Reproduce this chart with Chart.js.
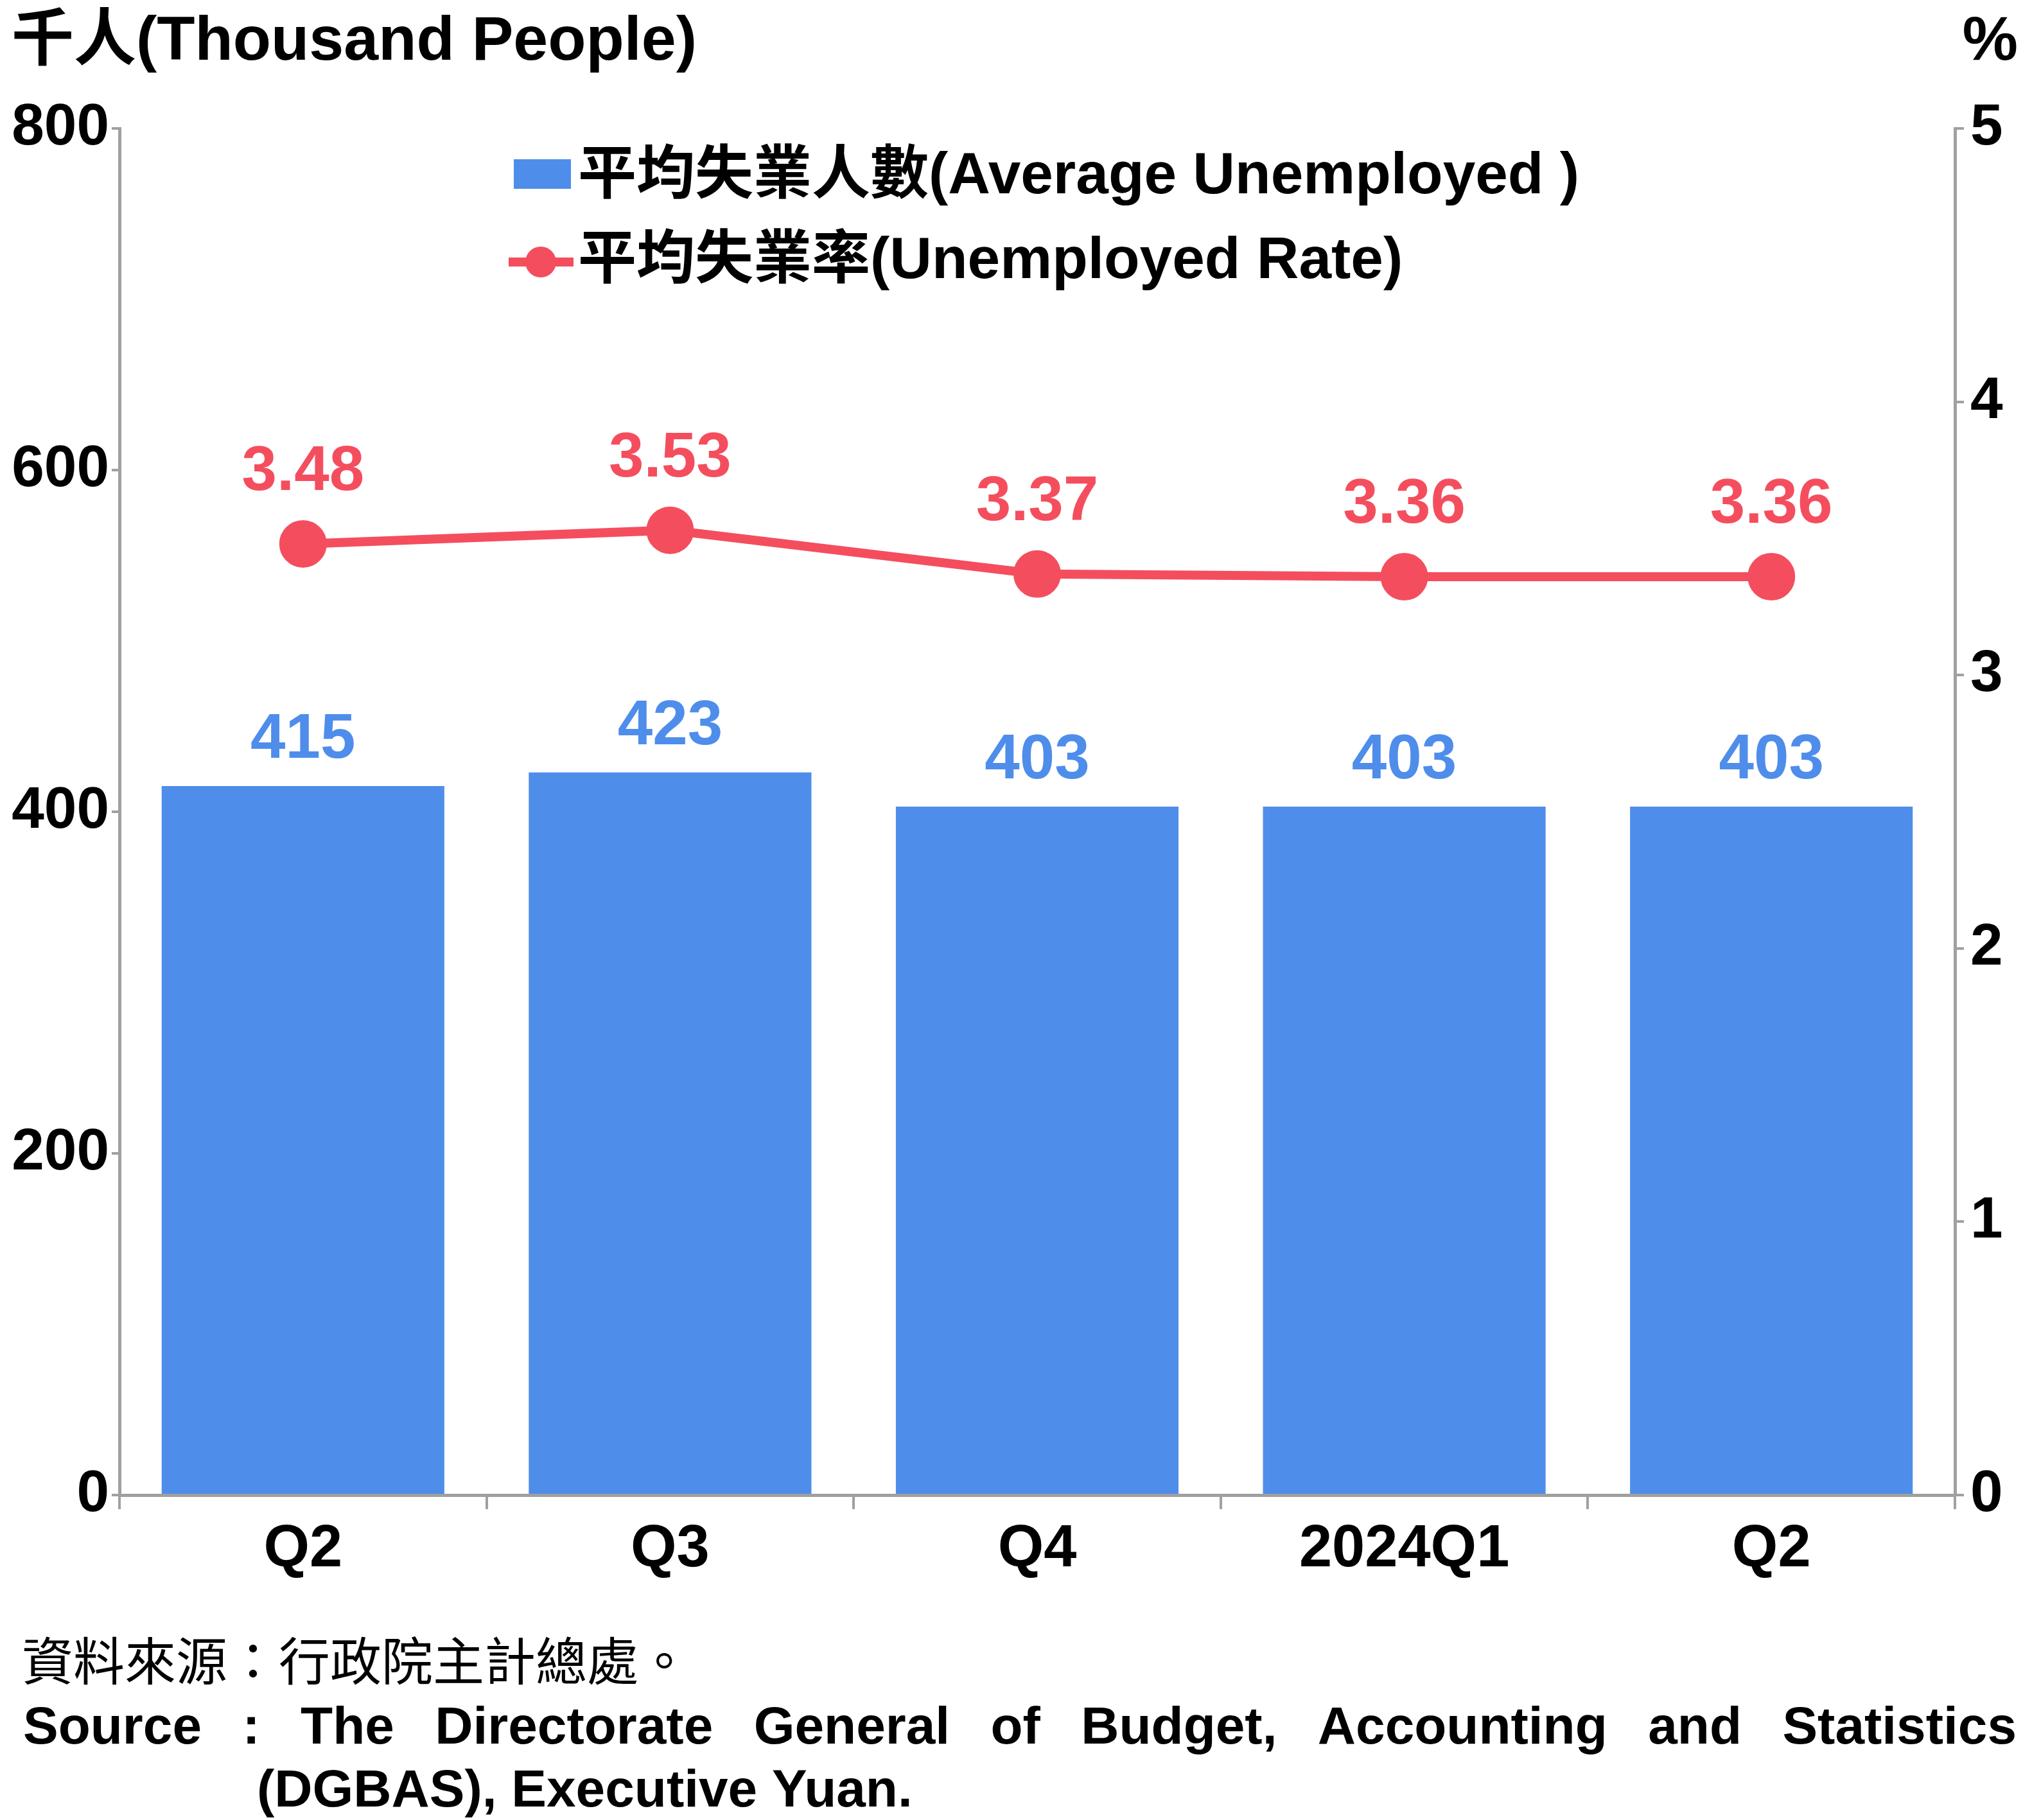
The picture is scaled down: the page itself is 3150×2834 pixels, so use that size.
<!DOCTYPE html>
<html><head><meta charset="utf-8">
<script src="https://cdn.jsdelivr.net/npm/chart.js@4/dist/chart.umd.min.js"></script>
<style>body{margin:0;background:#fff}canvas{display:block}</style>
</head><body><canvas id="c" width="3150" height="2834"></canvas>
<script>
const categories = ["Q2","Q3","Q4","2024Q1","Q2"];
const unemployed = [415,423,403,403,403];
const rate = [3.48,3.53,3.37,3.36,3.36];
const barLabel = "平均失業人數(Average Unemployed )";
const lineLabel = "平均失業率(Unemployed Rate)";
const BLUE = "#4F8DEB", RED = "#F44E5E", GREY = "#A0A0A0";
const F = '"Liberation Sans", Arial, "Noto Sans CJK TC", sans-serif';
const FC = '"Noto Sans CJK TC", "Liberation Sans", sans-serif';

const deco = {
  id: 'deco',
  afterDatasetsDraw(chart) {
    const ctx = chart.ctx;
    ctx.save();
    ctx.textAlign = 'center'; ctx.textBaseline = 'bottom';
    ctx.font = 'bold 98px ' + F;
    chart.getDatasetMeta(0).data.forEach((b, i) => {
      ctx.fillStyle = BLUE; ctx.fillText(String(unemployed[i]), b.x, b.y - 22);
    });
    chart.getDatasetMeta(1).data.forEach((p, i) => {
      ctx.fillStyle = RED; ctx.fillText(rate[i].toFixed(2), p.x, p.y - 62);
    });
    ctx.textAlign = 'left'; ctx.textBaseline = 'middle';
    ctx.font = 'bold 91px ' + F;
    ctx.fillStyle = BLUE; ctx.fillRect(800, 248, 89, 46);
    ctx.fillStyle = '#000'; ctx.fillText(barLabel, 900, 276);
    ctx.strokeStyle = RED; ctx.lineWidth = 14;
    ctx.beginPath(); ctx.moveTo(792, 408); ctx.lineTo(893, 408); ctx.stroke();
    ctx.fillStyle = RED; ctx.beginPath(); ctx.arc(842, 408, 24, 0, Math.PI*2); ctx.fill();
    ctx.fillStyle = '#000'; ctx.fillText(lineLabel, 900, 408);
    ctx.font = 'bold 97px ' + F;
    ctx.fillText("千人(Thousand People)", 18, 66);
    ctx.textAlign = 'right'; ctx.fillText("%", 3142, 66);
    ctx.textAlign = 'left';
    ctx.font = '80px ' + FC;
    ctx.fillText("資料來源：行政院主計總處。", 34, 2586);
    ctx.font = 'bold 82px ' + F;
    const words = ["Source",":","The","Directorate","General","of","Budget,","Accounting","and","Statistics"];
    const x0 = 36, x1 = 3140;
    const tw = words.reduce((s, w) => s + ctx.measureText(w).width, 0);
    const gap = (x1 - x0 - tw) / (words.length - 1);
    let x = x0;
    words.forEach(w => { ctx.fillText(w, x, 2692); x += ctx.measureText(w).width + gap; });
    ctx.fillText("(DGBAS), Executive Yuan.", 400, 2790);
    ctx.restore();
  }
};

new Chart(document.getElementById('c'), {
  data: {
    labels: categories,
    datasets: [
      { type: 'bar', data: unemployed, backgroundColor: BLUE, yAxisID: 'y', barPercentage: 0.77, categoryPercentage: 1, order: 2 },
      { type: 'line', data: rate, borderColor: RED, backgroundColor: RED, borderWidth: 14, pointRadius: 30, pointHoverRadius: 30, yAxisID: 'y1', order: 1 }
    ]
  },
  options: {
    responsive: false, animation: false, devicePixelRatio: 1,
    layout: { padding: { top: 200, left: 0, right: 0, bottom: 0 } },
    plugins: { legend: { display: false }, tooltip: { enabled: false } },
    scales: {
      x: {
        afterFit: s => { s.height = 506; },
        grid: { display: true, drawOnChartArea: false, offset: true, color: GREY, lineWidth: 4, tickLength: 22 },
        border: { color: GREY, width: 5 },
        ticks: { color: '#000', font: { family: F, weight: 'bold', size: 92 }, padding: 8 }
      },
      y: {
        position: 'left', min: 0, max: 800,
        afterFit: s => { s.width = 186; },
        grid: { drawOnChartArea: false, color: GREY, lineWidth: 4, tickLength: 12 },
        border: { color: GREY, width: 5 },
        ticks: { stepSize: 200, color: '#000', font: { family: F, weight: 'bold', size: 91 }, padding: 4 }
      },
      y1: {
        position: 'right', min: 0, max: 5,
        afterFit: s => { s.width = 106; },
        grid: { drawOnChartArea: false, color: GREY, lineWidth: 4, tickLength: 14 },
        border: { color: GREY, width: 5 },
        ticks: { stepSize: 1, color: '#000', font: { family: F, weight: 'bold', size: 91 }, padding: 10 }
      }
    }
  },
  plugins: [deco]
});
</script></body></html>
